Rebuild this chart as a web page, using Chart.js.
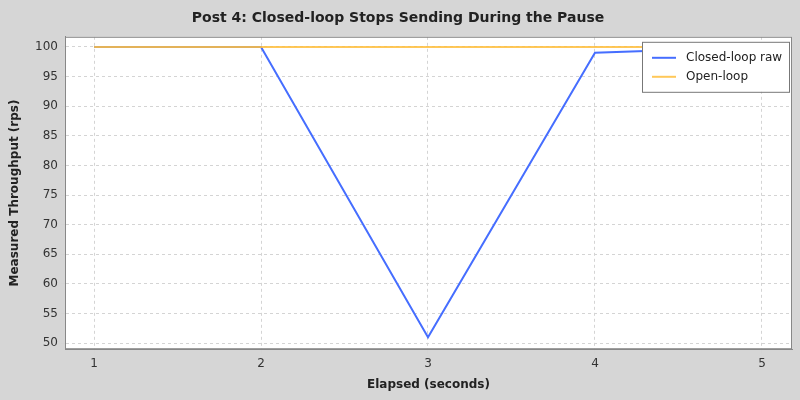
<!DOCTYPE html>
<html>
<head>
<meta charset="utf-8">
<script src="https://cdn.jsdelivr.net/npm/chart.js@4"></script>
<style>
  html, body { margin: 0; padding: 0; background: #d6d6d6; }
  #wrap { width: 800px; height: 400px; }
</style>
</head>
<body>
<div id="wrap"><canvas id="chart"></canvas></div>
<script>
// Datos del gráfico
const elapsed = [1, 2, 3, 4, 5];
const closedLoopRaw = [100, 100, 51, 99, 100];
const openLoop = [100, 100, 100, 100, 100];
const yTicks = [50, 55, 60, 65, 70, 75, 80, 85, 90, 95, 100];

const font = 'Lucida Sans, DejaVu Sans, sans-serif';

// Fondo blanco del área de trazado y leyenda dentro del gráfico
const plotBox = {
  id: 'plotBox',
  beforeDraw(chart) {
    const { ctx, chartArea: a } = chart;
    ctx.save();
    ctx.fillStyle = '#ffffff';
    ctx.fillRect(a.left, a.top, a.right - a.left, a.bottom - a.top);
    ctx.restore();
  },
  afterDraw(chart) {
    const { ctx, chartArea: a } = chart;
    ctx.save();
    ctx.strokeStyle = '#888888';
    ctx.lineWidth = 1;
    ctx.strokeRect(a.left + 0.5, a.top + 0.5, a.right - a.left - 1, a.bottom - a.top - 1);
    // leyenda
    const x = a.right - 150, y = a.top + 5, w = 147, h = 50;
    ctx.fillStyle = '#ffffff';
    ctx.fillRect(x, y, w, h);
    ctx.strokeStyle = '#777777';
    ctx.strokeRect(x + 0.5, y + 0.5, w, h);
    ctx.font = '12px ' + font;
    ctx.textBaseline = 'middle';
    chart.data.datasets.forEach((ds, i) => {
      const ly = y + 16 + i * 19;
      ctx.strokeStyle = ds.borderColor;
      ctx.lineWidth = 2;
      ctx.beginPath();
      ctx.moveTo(x + 10, ly);
      ctx.lineTo(x + 34, ly);
      ctx.stroke();
      ctx.fillStyle = '#222222';
      ctx.fillText(ds.label, x + 44, ly);
    });
    ctx.restore();
  }
};

new Chart(document.getElementById('chart'), {
  type: 'line',
  data: {
    datasets: [
      {
        label: 'Closed-loop raw',
        data: elapsed.map((x, i) => ({ x: x, y: closedLoopRaw[i] })),
        borderColor: 'rgba(70, 110, 255, 1)',
        borderWidth: 2,
        pointRadius: 0,
        tension: 0,
        order: 2
      },
      {
        label: 'Open-loop',
        data: elapsed.map((x, i) => ({ x: x, y: openLoop[i] })),
        borderColor: 'rgba(255, 190, 60, 0.85)',
        borderWidth: 2,
        pointRadius: 0,
        tension: 0,
        order: 1
      }
    ]
  },
  options: {
    responsive: true,
    maintainAspectRatio: false,
    animation: false,
    layout: { padding: { left: 4, right: 8, top: 2, bottom: 4 } },
    scales: {
      x: {
        type: 'linear',
        min: 0.826,
        max: 5.18,
        afterBuildTicks: axis => { axis.ticks = elapsed.map(v => ({ value: v })); },
        grid: { color: '#d4d4d4', tickLength: 4, drawTicks: true },
        border: { color: '#888888', dash: [3, 3] },
        ticks: { color: '#333333', font: { family: font, size: 12 } },
        title: { display: true, text: 'Elapsed (seconds)', color: '#222222', font: { family: font, size: 12, weight: 'bold' } }
      },
      y: {
        min: 49,
        max: 101.7,
        afterBuildTicks: axis => { axis.ticks = yTicks.map(v => ({ value: v })); },
        afterFit: axis => { axis.width = 61; },
        grid: { color: '#d4d4d4', tickLength: 4 },
        border: { color: '#888888', dash: [3, 3] },
        ticks: { color: '#333333', font: { family: font, size: 12 } },
        title: { display: true, text: 'Measured Throughput (rps)', color: '#222222', font: { family: font, size: 12, weight: 'bold' } }
      }
    },
    plugins: {
      legend: { display: false },
      tooltip: { enabled: false },
      title: {
        display: true,
        text: 'Post 4: Closed-loop Stops Sending During the Pause',
        color: '#222222',
        font: { family: font, size: 14, weight: 'bold' },
        padding: { top: 8, bottom: 10 }
      }
    }
  },
  plugins: [plotBox]
});
</script>
</body>
</html>
